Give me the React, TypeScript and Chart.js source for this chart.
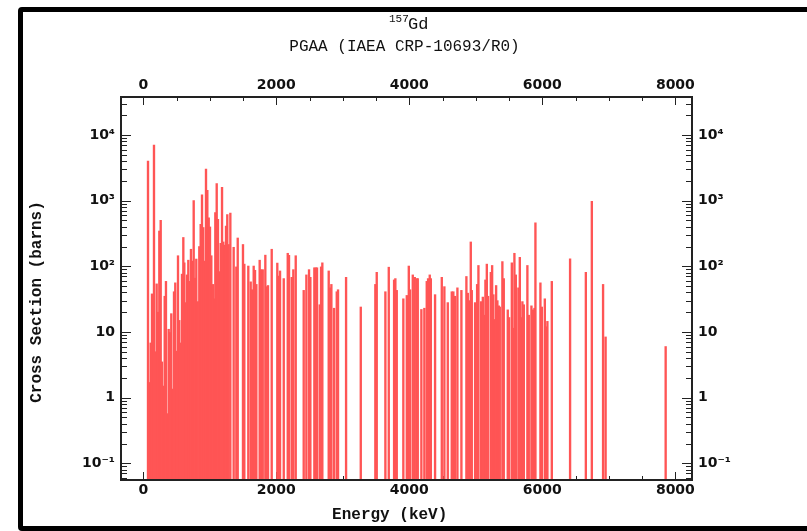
import React, { useEffect, useRef } from 'react';
import { Chart, registerables } from 'chart.js';

Chart.register(...registerables);

// ---- Data ----
const energies = [
  71, 86, 111, 131, 141, 161, 181, 201, 221, 241, 262, 281, 301, 322, 341, 361, 382, 402, 421, 442,
  462, 481, 502, 522, 541, 562, 582, 602, 617, 638, 657, 677, 698, 717, 737, 758, 778, 797, 818, 842,
  863, 883, 902, 923, 943, 963, 984, 1003, 1023, 1048, 1068, 1083, 1104, 1123, 1143, 1164, 1184, 1203, 1224, 1244,
  1263, 1284, 1309, 1359, 1399, 1420, 1499, 1519, 1579, 1615, 1635, 1660, 1680, 1700, 1750, 1770, 1796, 1835, 1856, 1875,
  1931, 2015, 2036, 2056, 2112, 2172, 2191, 2232, 2256, 2292, 2412, 2452, 2492, 2512, 2572, 2593, 2612, 2653, 2673, 2692,
  2788, 2808, 2828, 2868, 2909, 2928, 3049, 3270, 3489, 3510, 3640, 3691, 3771, 3790, 3811, 3910, 3962, 3992, 4011, 4052,
  4082, 4112, 4127, 4181, 4226, 4262, 4282, 4307, 4323, 4387, 4488, 4527, 4578, 4638, 4662, 4688, 4723, 4783, 4858, 4879,
  4899, 4924, 4939, 4989, 5019, 5039, 5079, 5105, 5124, 5144, 5165, 5184, 5225, 5245, 5264, 5285, 5305, 5324, 5345, 5360,
  5399, 5420, 5480, 5500, 5541, 5560, 5580, 5601, 5640, 5661, 5681, 5700, 5721, 5775, 5796, 5836, 5857, 5881, 5896, 5971,
  5992, 6037, 6052, 6076, 6142, 6417, 6654, 6744, 6913, 6951, 7854,
];
const crossSections = [
  4000, 1.7, 6.8, 38, 14, 7000, 5, 54, 20, 345, 500, 3.5, 1.5, 35, 59, 0.57, 11, 9.8, 19, 1.35,
  41, 56, 5.1, 145, 15, 6.8, 76, 275, 113, 28, 74, 124, 59, 182, 120, 1000, 66, 129, 29, 200,
  435, 1230, 390, 120, 3040, 1440, 550, 398, 145, 53, 32, 660, 1820, 520, 83, 224, 1590, 235, 210, 410,
  615, 215, 645, 195, 98, 270, 215, 108, 101, 58, 44, 101, 87, 53, 124, 89, 89, 148, 49, 51,
  182, 112, 71, 85, 65, 158, 147, 68, 89, 145, 43, 74, 89, 68, 95, 95, 95, 26, 98, 113,
  85, 47, 53, 23, 41, 44, 68, 24, 53, 81, 41, 97, 62, 65, 43, 32, 36, 101, 44, 74,
  68, 65, 65, 22, 23, 59, 65, 74, 65, 37, 68, 49, 28, 41, 41, 35, 47, 43, 70, 39,
  30, 235, 43, 28, 53, 103, 29, 34, 18, 62, 108, 35, 81, 103, 37, 15.5, 51, 30, 25, 24,
  118, 65, 21.7, 16.6, 113, 11.4, 158, 74, 47, 137, 16.6, 29, 26, 103, 18, 25, 21.7, 23, 460, 56,
  24, 32, 12, 14.5, 59, 130, 81, 975, 53, 8.4, 6.0,
];

const xTickValues = [0, 2000, 4000, 6000, 8000];
const yTickValues = [0.1, 1, 10, 100, 1000, 10000];
const yTickLabels = ['10\u207B\u00B9', '1', '10', '10\u00B2', '10\u00B3', '10\u2074'];

const titleMass = '157';
const titleElement = 'Gd';
const subtitle = 'PGAA (IAEA CRP-10693/R0)';
const xTitle = 'Energy (keV)';
const yTitle = 'Cross Section (barns)';

const X_MIN = -335;
const X_MAX = 8250;
const Y_MIN = 0.0556;
const Y_MAX = 37950;

const AXIS_COLOR = '#222';
const BAR_COLOR = '#ff5555';
const TICK_FONT = { family: '"DejaVu Sans", sans-serif', size: 14, weight: 'bold' as const };
const MONO = '"Liberation Mono", "DejaVu Sans Mono", monospace';

const tickMarksPlugin = {
  id: 'tickMarks',
  beforeDatasetsDraw(chart: any) {
    const ctx = chart.ctx as CanvasRenderingContext2D;
    const { top, bottom, left, right } = chart.chartArea;
    const xs = chart.scales.x;
    const ys = chart.scales.y;
    ctx.save();
    ctx.strokeStyle = AXIS_COLOR;
    ctx.lineWidth = 1;
    ctx.beginPath();
    for (let v = 0; v <= X_MAX; v += 500) {
      const px = Math.round(xs.getPixelForValue(v)) + 0.5;
      const len = v % 2000 === 0 ? 8 : 4;
      ctx.moveTo(px, bottom);
      ctx.lineTo(px, bottom - len);
      ctx.moveTo(px, top);
      ctx.lineTo(px, top + len);
    }
    for (let e = -2; e <= 4; e++) {
      for (let m = 1; m <= 9; m++) {
        const v = m * Math.pow(10, e);
        if (v < Y_MIN || v > Y_MAX) continue;
        const py = Math.round(ys.getPixelForValue(v)) + 0.5;
        const len = m === 1 ? 10 : 6;
        ctx.moveTo(left, py);
        ctx.lineTo(left + len, py);
        ctx.moveTo(right, py);
        ctx.lineTo(right - len, py);
      }
    }
    ctx.stroke();
    ctx.restore();
  },
};

const textPlugin = {
  id: 'textTitles',
  afterDraw(chart: any) {
    const ctx = chart.ctx as CanvasRenderingContext2D;
    ctx.save();
    ctx.fillStyle = '#111';
    ctx.textBaseline = 'alphabetic';
    ctx.textAlign = 'left';
    ctx.font = `11px ${MONO}`;
    ctx.fillText(titleMass, 389, 22);
    ctx.font = `17px ${MONO}`;
    ctx.fillText(titleElement, 408, 29);
    ctx.font = `16px ${MONO}`;
    ctx.textAlign = 'center';
    ctx.fillText(subtitle, 404.5, 51);
    ctx.font = `bold 16px ${MONO}`;
    ctx.textBaseline = 'middle';
    ctx.fillText(xTitle, 389.7, 515);
    ctx.translate(37, 302);
    ctx.rotate(-Math.PI / 2);
    ctx.fillText(yTitle, 0, 0);
    ctx.restore();
  },
};

function fixedTicks(values: number[]) {
  return (scale: any) => {
    scale.ticks = values.map((v) => ({ value: v }));
  };
}

function yLabel(value: number) {
  const i = yTickValues.findIndex((v) => Math.abs(v - value) / v < 1e-6);
  return i >= 0 ? yTickLabels[i] : '';
}

export default function App() {
  const canvasRef = useRef<HTMLCanvasElement | null>(null);

  useEffect(() => {
    const canvas = canvasRef.current;
    if (!canvas) return;
    const border = { display: true, color: AXIS_COLOR, width: 2, z: 1 };
    const grid = { display: false, drawTicks: false };
    const chart = new Chart(canvas, {
      type: 'bar',
      data: {
        datasets: [
          {
            data: energies.map((e, i) => ({ x: e, y: crossSections[i] })),
            backgroundColor: BAR_COLOR,
            borderWidth: 0,
            barThickness: 1.7,
          },
        ],
      },
      plugins: [tickMarksPlugin, textPlugin],
      options: {
        responsive: false,
        animation: false,
        devicePixelRatio: 1,
        layout: { padding: 0 },
        plugins: { legend: { display: false }, tooltip: { enabled: false }, title: { display: false } },
        scales: {
          x: {
            type: 'linear',
            position: 'bottom',
            min: X_MIN,
            max: X_MAX,
            offset: false,
            grid,
            border,
            afterBuildTicks: fixedTicks(xTickValues),
            afterFit: (s: any) => { s.height = 51; },
            ticks: { color: '#111', font: TICK_FONT, padding: 2, maxRotation: 0, autoSkip: false, callback: (v: any) => String(v) },
          },
          x2: {
            type: 'linear',
            position: 'top',
            min: X_MIN,
            max: X_MAX,
            offset: false,
            grid,
            border,
            afterBuildTicks: fixedTicks(xTickValues),
            afterFit: (s: any) => { s.height = 97; },
            ticks: { color: '#111', font: TICK_FONT, padding: 3, maxRotation: 0, autoSkip: false, callback: (v: any) => String(v) },
          },
          y: {
            type: 'logarithmic',
            position: 'left',
            min: Y_MIN,
            max: Y_MAX,
            grid,
            border,
            afterBuildTicks: fixedTicks(yTickValues),
            afterFit: (s: any) => { s.width = 121; },
            ticks: { color: '#111', font: TICK_FONT, padding: 6, autoSkip: false, callback: (v: any) => yLabel(Number(v)) },
          },
          y2: {
            type: 'logarithmic',
            position: 'right',
            min: Y_MIN,
            max: Y_MAX,
            grid,
            border,
            afterBuildTicks: fixedTicks(yTickValues),
            afterFit: (s: any) => { s.width = 115; },
            ticks: { color: '#111', font: TICK_FONT, padding: 6, autoSkip: false, callback: (v: any) => yLabel(Number(v)) },
          },
        },
      } as any,
    });
    return () => chart.destroy();
  }, []);

  return (
    <div style={{ position: 'fixed', left: 0, top: 0, width: 807, height: 531, overflow: 'hidden', background: '#fff' }}>
      <div
        style={{
          position: 'absolute',
          left: 18,
          top: 7,
          width: 900,
          height: 524,
          boxSizing: 'border-box',
          border: '5px solid #000',
          borderRadius: 4,
        }}
      />
      <canvas ref={canvasRef} width={807} height={531} style={{ position: 'absolute', left: 0, top: 0, width: 807, height: 531 }} />
    </div>
  );
}
